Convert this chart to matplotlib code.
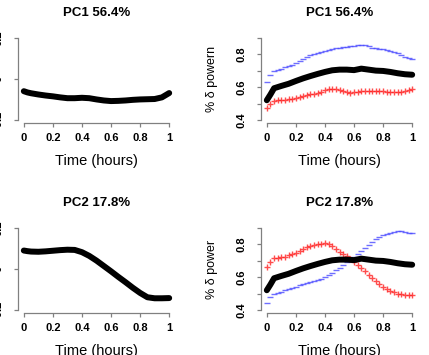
import matplotlib
matplotlib.use('Agg')
import matplotlib.pyplot as plt

plt.rcParams['font.family'] = ['Liberation Sans', 'DejaVu Sans']

# time grids
t_line = [0, 0.025, 0.05, 0.1, 0.15, 0.2, 0.25, 0.3, 0.35, 0.4, 0.45, 0.5,
          0.55, 0.6, 0.65, 0.7, 0.75, 0.8, 0.85, 0.9, 0.95, 1.0]
t_pts = [i / 40 for i in range(41)]

# left panels: PC loadings over time
pc1_line = [-0.060, -0.066, -0.070, -0.076, -0.081, -0.085, -0.090, -0.094, -0.094,
            -0.092, -0.094, -0.100, -0.105, -0.108, -0.107, -0.105, -0.102, -0.100,
            -0.099, -0.098, -0.090, -0.069]
pc2_line = [0.089, 0.086, 0.084, 0.083, 0.085, 0.088, 0.091, 0.093, 0.092, 0.081,
            0.063, 0.040, 0.014, -0.012, -0.039, -0.065, -0.092, -0.117, -0.138,
            -0.143, -0.143, -0.142]

# right panels: mean curve (black)
mean_line = [0.520, 0.555, 0.593, 0.607, 0.620, 0.637, 0.653, 0.667, 0.680, 0.692,
             0.702, 0.706, 0.706, 0.703, 0.712, 0.706, 0.700, 0.698, 0.692, 0.684,
             0.678, 0.675]

# PC1 +/- (red '+', blue '-')
pc1_red = [0.470, 0.500, 0.515, 0.520, 0.520, 0.522, 0.525, 0.530, 0.535, 0.540,
           0.545, 0.550, 0.555, 0.560, 0.565, 0.572, 0.580, 0.587, 0.590, 0.588,
           0.582, 0.575, 0.568, 0.566, 0.568, 0.572, 0.576, 0.578, 0.577, 0.575,
           0.574, 0.575, 0.574, 0.572, 0.570, 0.569, 0.570, 0.572, 0.578, 0.585, 0.590]
pc1_blue = [0.632, 0.672, 0.700, 0.706, 0.712, 0.720, 0.728, 0.737, 0.747, 0.758,
            0.770, 0.782, 0.792, 0.800, 0.806, 0.812, 0.818, 0.824, 0.830, 0.835,
            0.839, 0.842, 0.845, 0.848, 0.850, 0.854, 0.858, 0.858, 0.850, 0.840,
            0.836, 0.834, 0.831, 0.826, 0.820, 0.812, 0.805, 0.795, 0.784, 0.776, 0.771]

# PC2 +/- (red '+', blue '-')
pc2_red = [0.659, 0.689, 0.713, 0.716, 0.719, 0.725, 0.732, 0.739, 0.746, 0.757,
           0.768, 0.780, 0.790, 0.796, 0.800, 0.802, 0.804, 0.798, 0.788, 0.773,
           0.755, 0.742, 0.729, 0.711, 0.693, 0.674, 0.655, 0.634, 0.613, 0.593,
           0.574, 0.558, 0.542, 0.530, 0.518, 0.507, 0.498, 0.496, 0.494, 0.494, 0.494]
pc2_blue = [0.441, 0.477, 0.498, 0.505, 0.512, 0.520, 0.527, 0.535, 0.542, 0.549,
            0.555, 0.562, 0.568, 0.575, 0.583, 0.590, 0.598, 0.610, 0.625, 0.640,
            0.655, 0.672, 0.689, 0.706, 0.723, 0.742, 0.760, 0.777, 0.794, 0.812,
            0.830, 0.842, 0.854, 0.862, 0.870, 0.876, 0.880, 0.877, 0.872, 0.868, 0.866]

titles = ['PC1 56.4%', 'PC2 17.8%']
xticks = [0, 0.2, 0.4, 0.6, 0.8, 1]
xticklabels = ['0', '0.2', '0.4', '0.6', '0.8', '1']
left_yticks = [-0.2, 0, 0.2]
left_yticklabels = ['-0.2', '0', '0.2']
right_yticks = [0.4, 0.5, 0.6, 0.7, 0.8, 0.9]
right_yticklabels = ['0.4', '', '0.6', '', '0.8', '']
right_ylabels = ['% δ powern', '% δ power']

W, H = 429, 355
fig = plt.figure(figsize=(W / 100, H / 100), dpi=100)

AX_COL = '#808080'


def r_axes(px_left, px_top, yticks, yticklabels):
    # plot region in pixels: 157 wide, 89 tall
    ax = fig.add_axes([px_left / W, 1 - (px_top + 88.9) / H, 157 / W, 88.9 / H])
    y0, y1 = yticks[0], yticks[-1]
    pad = 0.04 * (y1 - y0)
    ax.set_xlim(-0.04, 1.04)
    ax.set_ylim(y0 - pad, y1 + pad)
    for s in ['top', 'right']:
        ax.spines[s].set_visible(False)
    ax.spines['left'].set_bounds(y0, y1)
    ax.spines['bottom'].set_bounds(0, 1)
    for s in ['left', 'bottom']:
        ax.spines[s].set_color(AX_COL)
        ax.spines[s].set_linewidth(0.9)
    ax.set_xticks(xticks)
    ax.set_xticklabels(xticklabels, fontweight='bold', fontsize=8)
    ax.set_yticks(yticks)
    ax.set_yticklabels(yticklabels, fontweight='bold', fontsize=8,
                       rotation=90, va='center')
    ax.tick_params(length=3.2, width=0.9, color=AX_COL)
    ax.tick_params(axis='x', pad=4)
    ax.tick_params(axis='y', pad=7)
    return ax


for row, top in enumerate([34.4, 224.4]):
    # left panel
    ax = r_axes(18, top, left_yticks, left_yticklabels)
    ax.plot(t_line, [pc1_line, pc2_line][row], color='black', lw=4.3,
            solid_capstyle='round')
    # right panel
    ax = r_axes(261, top, right_yticks, right_yticklabels)
    red = [pc1_red, pc2_red][row]
    blue = [pc1_blue, pc2_blue][row]
    ax.plot(t_pts, blue, linestyle='none', marker='_', markersize=4.5,
            markeredgewidth=1.0, color='#4a4aff', alpha=0.8)
    ax.plot(t_pts, red, linestyle='none', marker='+', markersize=4.5,
            markeredgewidth=1.0, color='#ff2020', alpha=0.8)
    ax.plot(t_line, mean_line, color='black', lw=4.3, solid_capstyle='round')

    off = row * 190
    for cx in [96.5, 339.5]:
        fig.text(cx / W, 1 - (13 + off) / H, titles[row], ha='center',
                 va='center', fontsize=9.5, fontweight='bold')
        fig.text(cx / W, 1 - (161 + off) / H, 'Time (hours)', ha='center',
                 va='center', fontsize=10.5)
    fig.text(212 / W, 1 - (79 + off) / H, right_ylabels[row], rotation=90,
             ha='center', va='center', fontsize=9)

fig.savefig('out.png', dpi=100)
